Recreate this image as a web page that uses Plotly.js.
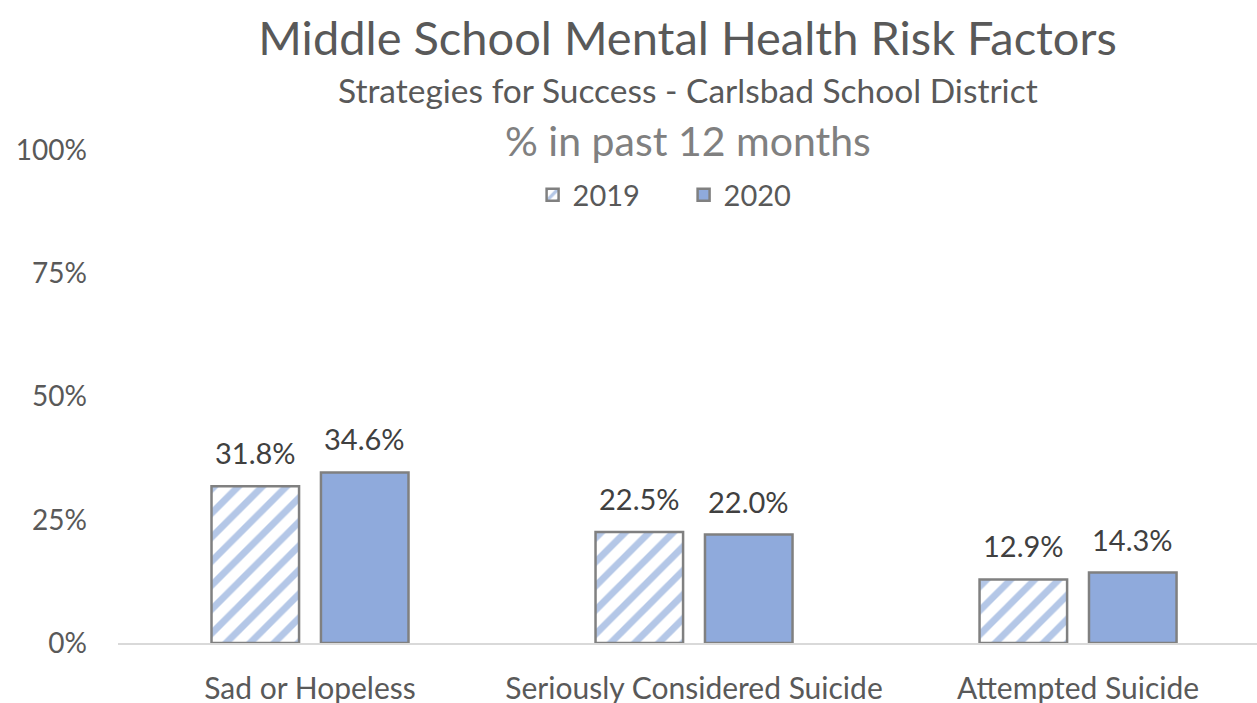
<!DOCTYPE html>
<html>
<head>
<meta charset="utf-8">
<script src="https://cdn.plot.ly/plotly-3.0.1.min.js"></script>
<style>html,body{margin:0;padding:0;background:#fff;}#chart{width:1257px;height:703px;}</style>
</head>
<body>
<div id="chart"></div>
<script>
const categories = ["Sad or Hopeless", "Seriously Considered Suicide", "Attempted Suicide"];
const values2019 = [0.318, 0.225, 0.129];
const values2020 = [0.346, 0.220, 0.143];
const seriesNames = ["2019", "2020"];
const tickValues = [0, 0.25, 0.5, 0.75, 1];
const tickLabels = ["0%", "25%", "50%", "75%", "100%"];

const FONT = "Lato, 'Open Sans', sans-serif";
const fmt = v => (v * 100).toFixed(1) + "%";

const traces = [
  {
    type: "bar", name: seriesNames[0], x: categories, y: values2019,
    marker: {color: "#ffffff", line: {color: "#808080", width: 2.5},
      pattern: {shape: "/", fgcolor: "#b4c7e7", bgcolor: "#ffffff", size: 17, solidity: 0.4, fillmode: "replace"}},
    hoverinfo: "skip"
  },
  {
    type: "bar", name: seriesNames[1], x: categories, y: values2020,
    marker: {color: "#8faadc", line: {color: "#808080", width: 2.5}},
    hoverinfo: "skip"
  }
];

const labelFont = {family: FONT, size: 29, color: "#404040"};
const dataLabels = [];
[[values2019, -55], [values2020, 54]].forEach(([vals, shift]) => {
  vals.forEach((v, i) => {
    dataLabels.push({x: categories[i], y: v, xref: "x", yref: "y", text: fmt(v),
      showarrow: false, xanchor: "center", yanchor: "bottom", xshift: shift, yshift: 14, font: labelFont});
  });
});

const layout = {
  width: 1257, height: 703,
  paper_bgcolor: "#ffffff", plot_bgcolor: "#ffffff",
  font: {family: FONT, color: "#595959"},
  margin: {l: 118, r: 0, t: 150, b: 60},
  showlegend: true,
  legend: {orientation: "h", x: 0.364, xanchor: "left", y: 0.909, yanchor: "middle",
    font: {family: FONT, size: 29, color: "#595959"}, itemwidth: 30,
    entrywidth: 106, entrywidthmode: "pixels", bgcolor: "rgba(0,0,0,0)"},
  bargap: 0.43, bargroupgap: 0.2,
  title: {text: "Middle School Mental Health Risk Factors", x: 0.547, xanchor: "center", y: 0.945, yanchor: "middle",
    font: {family: FONT, size: 47, color: "#595959"}},
  annotations: [
    {text: "Strategies for Success - Carlsbad School District", xref: "paper", yref: "paper",
      x: 0.5, y: (643 - 90) / 493, xanchor: "center", yanchor: "middle", showarrow: false,
      font: {family: FONT, size: 33.5, color: "#595959"}},
    {text: "% in past 12 months", xref: "paper", yref: "paper",
      x: 0.5, y: (643 - 140) / 493, xanchor: "center", yanchor: "middle", showarrow: false,
      font: {family: FONT, size: 41, color: "#808080"}}
  ].concat(dataLabels),
  xaxis: {range: [-0.5, 2.466], showline: true, linecolor: "#d9d9d9", linewidth: 1.5,
    ticks: "", showgrid: false, zeroline: false, fixedrange: true, ticklabelstandoff: 18,
    tickfont: {family: FONT, size: 30, color: "#595959"}},
  yaxis: {range: [0, 1], tickvals: tickValues, ticktext: tickLabels, showgrid: false,
    zeroline: false, showline: false, ticks: "", ticklabelstandoff: 30,
    tickfont: {family: FONT, size: 28, color: "#595959"}}
};

Plotly.newPlot("chart", traces, layout, {displayModeBar: false, staticPlot: true});
</script>
</body>
</html>
